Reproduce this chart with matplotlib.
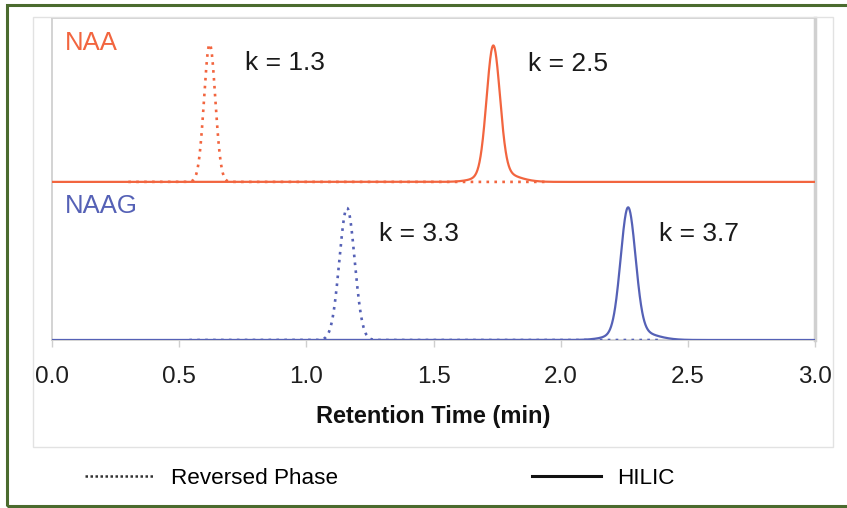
import numpy as np
import matplotlib.pyplot as plt
from matplotlib.patches import Rectangle
from matplotlib.lines import Line2D

# peak parameters (min, relative height, sigma in min)
compounds = ['NAA', 'NAAG']
rp_time = [0.62, 1.16]
rp_height = [0.428, 0.41]
rp_sigma = [0.022, 0.03]
rp_span = [(0.30, 1.95), (0.54, 2.40)]
hilic_time = [1.735, 2.265]
hilic_height = [0.425, 0.413]
hilic_sigma = [0.026, 0.029]
k_rp = ['k = 1.3', 'k = 3.3']
k_hilic = ['k = 2.5', 'k = 3.7']
offsets = [0.491, 0.0]
colors = ['#F2653F', '#5561B6']
xticks = [0.0, 0.5, 1.0, 1.5, 2.0, 2.5, 3.0]

plt.rcParams['font.family'] = ['Liberation Sans', 'DejaVu Sans']

W, H = 847, 508
fig = plt.figure(figsize=(W / 100, H / 100), dpi=100)

def fx(px):
    return px / W

def fy(py):
    return 1 - py / H

# frames drawn in figure coords
fig.patches.append(Rectangle((fx(7), fy(506)), fx(860) - fx(7), fy(5) - fy(506),
                             transform=fig.transFigure, fill=False,
                             edgecolor='#4B6B2E', lw=2.2, clip_on=False))
fig.patches.append(Rectangle((fx(33), fy(447)), fx(833) - fx(33), fy(17) - fy(447),
                             transform=fig.transFigure, fill=False,
                             edgecolor='#e2e2e2', lw=1.0, clip_on=False))

ax = fig.add_axes([fx(52), fy(340), fx(815) - fx(52), fy(18) - fy(340)])

t = np.linspace(0, 3, 3001)


def gauss(t, t0, h, s):
    return h * np.exp(-0.5 * ((t - t0) / s) ** 2)


for i in range(2):
    c = colors[i]
    off = offsets[i]
    # reversed phase, dotted
    lo, hi = rp_span[i]
    m = (t >= lo) & (t <= hi)
    y_rp = off + gauss(t, rp_time[i], rp_height[i], rp_sigma[i])
    ax.plot(t[m], y_rp[m], color=c, lw=1.9, ls=(0, (1, 2)), zorder=3)
    # HILIC, solid with a little tailing
    y_h = gauss(t, hilic_time[i], hilic_height[i] * 0.93, hilic_sigma[i])
    y_h += gauss(t, hilic_time[i] + 0.02, hilic_height[i] * 0.07, hilic_sigma[i] * 2.6)
    ax.plot(t, off + y_h, color=c, lw=1.6, zorder=4)

ax.set_xlim(0, 3)
ax.set_ylim(0, 1)
ax.set_yticks([])
ax.set_xticks(xticks)
ax.set_xticklabels(['%.1f' % v for v in xticks])
ax.tick_params(axis='x', length=5, width=1, color='#cfcfcf', pad=14,
               labelsize=17.5, labelcolor='#1e1e1e')
for s in ['left', 'top', 'bottom']:
    ax.spines[s].set_color('#cccccc')
    ax.spines[s].set_linewidth(1.2)
ax.spines['right'].set_color('#d0d0d0')
ax.spines['right'].set_linewidth(2.5)

ax.set_xlabel('Retention Time (min)', fontsize=17, fontweight='bold',
              labelpad=12, color='#111111')


def py(p):
    return (340 - p) / 322.0


# compound names and retention factors
ax.text(0.05, py(43), compounds[0], color=colors[0], fontsize=18.5, va='center')
ax.text(0.05, py(206), compounds[1], color=colors[1], fontsize=18.5, va='center')
ax.text(0.76, py(63), k_rp[0], fontsize=19, va='center', color='#1a1a1a')
ax.text(1.87, py(64), k_hilic[0], fontsize=19, va='center', color='#1a1a1a')
ax.text(1.285, py(234), k_rp[1], fontsize=19, va='center', color='#1a1a1a')
ax.text(2.385, py(234), k_hilic[1], fontsize=19, va='center', color='#1a1a1a')

handles = [Line2D([], [], color='#333333', lw=1.8, ls=(0, (1, 1))),
           Line2D([], [], color='#111111', lw=2.2)]
fig.legend(handles, ['Reversed Phase', 'HILIC'], ncol=2, frameon=False,
           loc='center left', bbox_to_anchor=(fx(85), fy(478)),
           borderpad=0, borderaxespad=0, handlelength=3.1, handletextpad=0.72,
           columnspacing=8.6, prop={'size': 16.2})

fig.savefig('out.png', dpi=100)
